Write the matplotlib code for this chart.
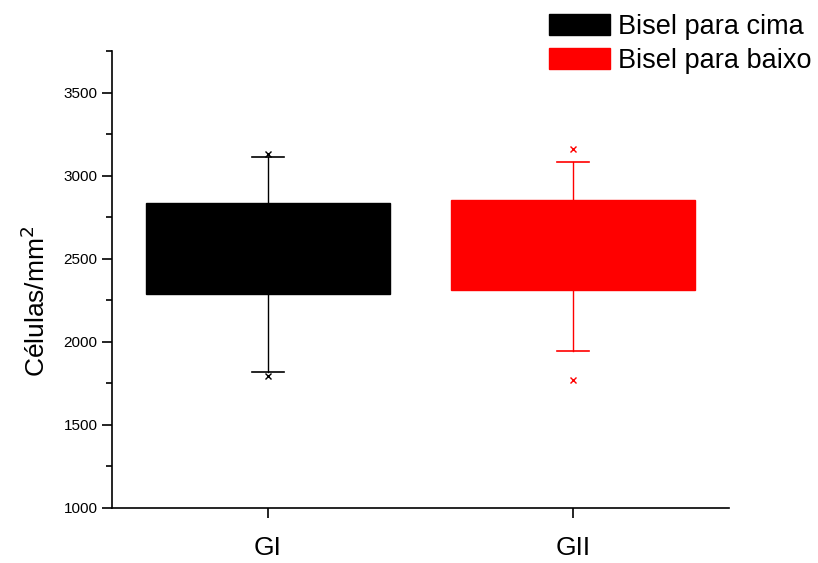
import numpy as np
import matplotlib
matplotlib.use("Agg")
from matplotlib import pyplot as plt
from matplotlib.patches import Patch
from matplotlib.ticker import MultipleLocator

plt.rcParams['font.family'] = ['Liberation Sans', 'DejaVu Sans']

# Data
groups = ['GI', 'GII']
series_names = ['Bisel para cima', 'Bisel para baixo']
colors = ['black', 'red']
q1 = [2290, 2313]
q3 = [2837, 2855]
med = [2560, 2580]  # hidden in the figure (same colour as box)
whislo = [1819, 1946]
whishi = [3114, 3084]
fliers = [[1795, 3133], [1771, 3160]]

fig = plt.figure(figsize=(8.18, 5.63), dpi=100)
ax = fig.add_axes([0.137, 0.098, 0.754, 0.811])

positions = [1, 2]
for i in range(len(groups)):
    stats = [{'q1': q1[i], 'q3': q3[i], 'med': med[i], 'whislo': whislo[i],
              'whishi': whishi[i], 'fliers': fliers[i], 'label': groups[i]}]
    c = colors[i]
    ax.bxp(stats, positions=[positions[i]], widths=0.8, capwidths=0.105,
           patch_artist=True,
           boxprops=dict(facecolor=c, edgecolor=c, linewidth=1),
           medianprops=dict(color=c, linewidth=0),
           whiskerprops=dict(color=c, linewidth=1),
           capprops=dict(color=c, linewidth=1.2),
           flierprops=dict(marker='x', markeredgecolor=c, markersize=5,
                           markeredgewidth=1))

ax.set_xlim(0.49, 2.51)
ax.set_ylim(1000, 3750)
ax.set_xticks(positions)
ax.set_xticklabels(groups, fontsize=19)
ax.yaxis.set_major_locator(MultipleLocator(500))
ax.yaxis.set_minor_locator(MultipleLocator(250))
ax.tick_params(axis='y', which='major', length=7, width=1.2, labelsize=11)
ax.tick_params(axis='y', which='minor', length=4, width=1.2)
ax.tick_params(axis='x', which='major', length=7, width=1.2, pad=13)
ax.set_ylabel('Células/mm$^2$', fontsize=19, labelpad=8)
ax.yaxis.set_label_coords(-0.1, 0.453)

ax.spines['top'].set_visible(False)
ax.spines['right'].set_visible(False)
ax.spines['left'].set_linewidth(1.2)
ax.spines['bottom'].set_linewidth(1.2)

handles = [Patch(facecolor=colors[i], edgecolor=colors[i]) for i in range(2)]
fig.legend(handles, series_names, loc='upper right',
           bbox_to_anchor=(1.009, 1.0), frameon=False, fontsize=19.5,
           handlelength=2.25, handleheight=0.85, handletextpad=0.3,
           labelspacing=0.3, borderaxespad=0.1)

fig.savefig('out.png', dpi=100)
